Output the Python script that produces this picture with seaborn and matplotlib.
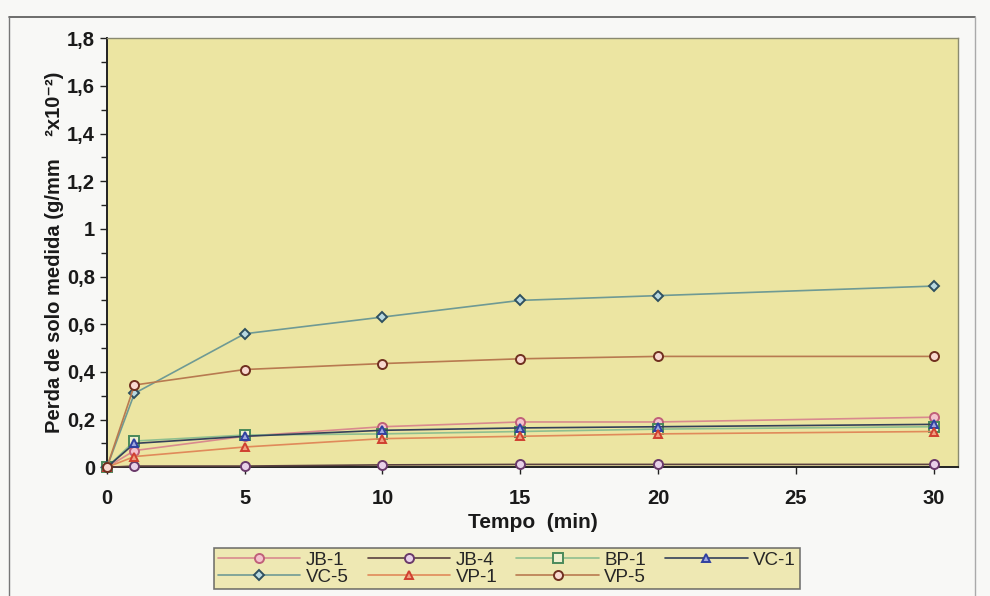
import matplotlib
matplotlib.use("Agg")
import matplotlib.pyplot as plt
import seaborn as sns
import pandas as pd
from matplotlib.ticker import MultipleLocator, FuncFormatter
from matplotlib.lines import Line2D

# ---- data ----
tempo = [0, 1, 5, 10, 15, 20, 30]
series_names = ["JB-1", "JB-4", "BP-1", "VC-1", "VC-5", "VP-1", "VP-5"]
jb1 = [0.0, 0.07, 0.13, 0.17, 0.19, 0.19, 0.21]
jb4 = [0.0, 0.005, 0.005, 0.01, 0.012, 0.012, 0.012]
bp1 = [0.0, 0.11, 0.135, 0.14, 0.15, 0.16, 0.17]
vc1 = [0.0, 0.10, 0.13, 0.155, 0.165, 0.17, 0.18]
vc5 = [0.0, 0.31, 0.56, 0.63, 0.70, 0.72, 0.76]
vp1 = [0.0, 0.045, 0.085, 0.12, 0.13, 0.14, 0.15]
vp5 = [0.0, 0.345, 0.41, 0.435, 0.455, 0.465, 0.465]
values = [jb1, jb4, bp1, vc1, vc5, vp1, vp5]

x_ticks = [0, 5, 10, 15, 20, 25, 30]
x_label = "Tempo  (min)"
y_label = "Perda de solo medida (g/mm    ²x10⁻²)"

rows = []
for name, vals in zip(series_names, values):
    for t, v in zip(tempo, vals):
        rows.append({"Tempo": t, "Perda": v, "Serie": name})
df = pd.DataFrame(rows)

sns.set_theme(style="white")
plt.rcParams["font.family"] = ["Liberation Sans", "DejaVu Sans"]

styles = {
    "JB-1": dict(color="#d98a8e", marker="o", mfc="#f4c2cc", mec="#c0607a"),
    "JB-4": dict(color="#5a4040", marker="o", mfc="#e8d0e8", mec="#6a3a6a"),
    "BP-1": dict(color="#8fbf8f", marker="s", mfc="#f0f0d0", mec="#4a8a5a"),
    "VC-1": dict(color="#34405a", marker="^", mfc="#a0a8e0", mec="#3040a0"),
    "VC-5": dict(color="#6f9a94", marker="D", mfc="#b8d8e0", mec="#2f5060"),
    "VP-1": dict(color="#e08a5a", marker="^", mfc="#f0a080", mec="#d04030"),
    "VP-5": dict(color="#b87a50", marker="o", mfc="#f8d8d0", mec="#703020"),
}
msizes = {"o": 6.5, "s": 6.5, "^": 6, "D": 5}

fig = plt.figure(figsize=(9.9, 5.96), dpi=100, facecolor="#f8f8f6")
ax = fig.add_axes([0.108, 0.216, 0.860, 0.720])
ax.set_facecolor("#ece5a2")

handles = {}
for name in series_names:
    st = styles[name]
    sub = df[df["Serie"] == name]
    sns.lineplot(data=sub, x="Tempo", y="Perda", ax=ax, color=st["color"],
                 linewidth=1.2, marker=st["marker"], markersize=msizes[st["marker"]],
                 markerfacecolor=st["mfc"], markeredgecolor=st["mec"],
                 markeredgewidth=1.4, legend=False, clip_on=False, zorder=3)
    handles[name] = Line2D([0], [0], color=st["color"], linewidth=1.2,
                           marker=st["marker"], markersize=msizes[st["marker"]],
                           markerfacecolor=st["mfc"], markeredgecolor=st["mec"],
                           markeredgewidth=1.4, label=name)

ax.set_xlim(0, 30.9)
ax.set_ylim(0, 1.8)
ax.set_xticks(x_ticks)
ax.yaxis.set_major_locator(MultipleLocator(0.2))
ax.yaxis.set_minor_locator(MultipleLocator(0.1))
ax.yaxis.set_major_formatter(FuncFormatter(
    lambda v, p: "0" if abs(v) < 1e-9 else ("1" if abs(v - 1) < 1e-9 else f"{v:.1f}".replace(".", ","))))
ax.tick_params(axis="both", which="both", direction="out", length=5, width=1,
               colors="#222222", labelsize=14.5, left=True, bottom=True)
ax.tick_params(axis="y", which="minor", length=4)
ax.tick_params(axis="x", pad=11)
for lab in ax.get_xticklabels() + ax.get_yticklabels():
    lab.set_fontweight("bold")
    lab.set_color("#1a1a1a")

ax.set_xlabel(x_label, fontsize=15, fontweight="bold", color="#1a1a1a", labelpad=3)
ax.set_ylabel(y_label, fontsize=14.5, fontweight="bold", color="#1a1a1a", labelpad=2)

for side in ["left", "bottom"]:
    ax.spines[side].set_color("#222222")
    ax.spines[side].set_linewidth(1.4)
for side in ["top", "right"]:
    ax.spines[side].set_color("#8a8a70")
    ax.spines[side].set_linewidth(1.0)

# row-wise legend order for 4 columns x 2 rows
leg_order = ["JB-1", "VC-5", "JB-4", "VP-1", "BP-1", "VP-5", "VC-1"]
leg = fig.legend(handles=[handles[n] for n in leg_order], loc="center", ncol=4,
                 bbox_to_anchor=(0.512, 0.046), frameon=True, fancybox=False,
                 fontsize=13.5, handlelength=4.4, handletextpad=0.3,
                 columnspacing=1.0, labelspacing=0.0, borderpad=0.2)
leg.get_frame().set_facecolor("#ece5a2")
leg.get_frame().set_edgecolor("#555555")
leg.get_frame().set_linewidth(1.2)

# outer frame
fig.add_artist(Line2D([0.009, 0.985], [0.972, 0.972], transform=fig.transFigure,
                      color="#555555", linewidth=1.2))
fig.add_artist(Line2D([0.009, 0.009], [0.0, 0.972], transform=fig.transFigure,
                      color="#777777", linewidth=1.0))
fig.add_artist(Line2D([0.985, 0.985], [0.0, 0.972], transform=fig.transFigure,
                      color="#aaaaaa", linewidth=1.0))

fig.savefig("out.png", dpi=100, facecolor=fig.get_facecolor())
